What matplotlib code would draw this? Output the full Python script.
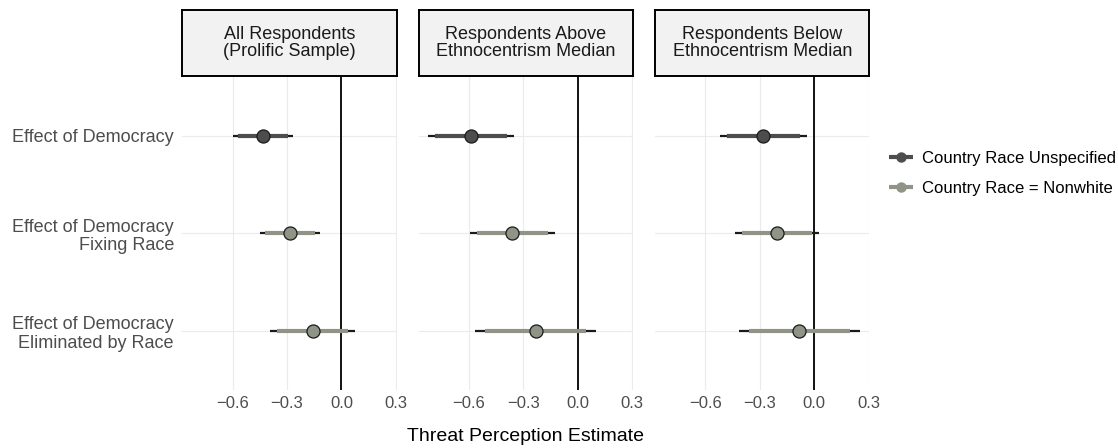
import matplotlib
matplotlib.use("Agg")
import matplotlib.pyplot as plt
from matplotlib.lines import Line2D

plt.rcParams['font.family'] = ['Liberation Sans', 'DejaVu Sans']

# Coefficient estimates with inner (thick) and outer (thin) intervals
panel_titles = ["All Respondents\n(Prolific Sample)",
                "Respondents Above\nEthnocentrism Median",
                "Respondents Below\nEthnocentrism Median"]
effects = ["Effect of Democracy",
           "Effect of Democracy\nFixing Race",
           "Effect of Democracy\nEliminated by Race"]
row_series = ["unspec", "nonwhite", "nonwhite"]

estimates = [[-0.433, -0.282, -0.159],
             [-0.590, -0.361, -0.232],
             [-0.280, -0.206, -0.083]]
inner_lo = [[-0.572, -0.420, -0.356],
            [-0.788, -0.556, -0.510],
            [-0.479, -0.398, -0.359]]
inner_hi = [[-0.295, -0.145, 0.035],
            [-0.392, -0.164, 0.046],
            [-0.081, -0.011, 0.199]]
outer_lo = [[-0.600, -0.447, -0.394],
            [-0.825, -0.593, -0.564],
            [-0.518, -0.435, -0.413]]
outer_hi = [[-0.266, -0.119, 0.074],
            [-0.354, -0.127, 0.099],
            [-0.042, 0.028, 0.250]]

series_labels = {"unspec": "Country Race Unspecified",
                 "nonwhite": "Country Race = Nonwhite"}
series_colors = {"unspec": "#4d4d4d", "nonwhite": "#8f9486"}
x_ticks = [-0.6, -0.3, 0.0, 0.3]

W, H = 1118, 448
fig = plt.figure(figsize=(W / 100, H / 100), dpi=100)

panel_w = 214.3
panel_lefts = [182.3, 418.7, 655.1]
panel_top, panel_bottom = 77, 390
strip_top, strip_bottom = 10, 76

ypos = [3, 2, 1]

for p, title in enumerate(panel_titles):
    left = panel_lefts[p]
    ax = fig.add_axes([left / W, 1 - panel_bottom / H, panel_w / W,
                       (panel_bottom - panel_top) / H])
    ax.set_xlim(-0.877, 0.304)
    ax.set_ylim(0.4, 3.6)
    ax.set_xticks(x_ticks)
    ax.set_xticklabels([f"{t:.1f}".replace("-", "\u2212") for t in x_ticks])
    ax.set_yticks(ypos)
    if p == 0:
        ax.set_yticklabels(effects, fontsize=13, color="#4d4d4d",
                           linespacing=1.1)
    else:
        ax.set_yticklabels([])
    ax.tick_params(axis='x', length=0, pad=4, labelsize=12, labelcolor="#4d4d4d")
    ax.tick_params(axis='y', length=0, pad=6)
    for s in ax.spines.values():
        s.set_visible(False)
    ax.grid(True, color="#ebebeb", linewidth=0.8)
    ax.set_axisbelow(True)
    ax.axvline(0, color="black", linewidth=1.3, zorder=2)

    for r in range(3):
        c = series_colors[row_series[r]]
        y = ypos[r]
        ax.plot([outer_lo[p][r], outer_hi[p][r]], [y, y], color="#1a1a1a",
                linewidth=1.6, solid_capstyle='butt', zorder=3)
        ax.plot([inner_lo[p][r], inner_hi[p][r]], [y, y], color=c,
                linewidth=3.0, solid_capstyle='butt', zorder=4)
        ax.plot(estimates[p][r], y, marker='o', markersize=9.4, color=c,
                markeredgecolor="#1a1a1a", markeredgewidth=0.9, zorder=5)

    # facet strip
    sax = fig.add_axes([left / W, 1 - strip_bottom / H, panel_w / W,
                        (strip_bottom - strip_top) / H])
    sax.set_facecolor("#f2f2f2")
    sax.set_xticks([])
    sax.set_yticks([])
    for s in sax.spines.values():
        s.set_color("black")
        s.set_linewidth(1.4)
    sax.text(0.5, 0.5, title, ha='center', va='center', fontsize=13,
             color="#1a1a1a", linespacing=1.0, transform=sax.transAxes)

fig.text((182.3 + 869.4) / 2 / W, 1 - 436 / H, "Threat Perception Estimate",
         ha='center', va='center', fontsize=14)

handles = [Line2D([], [], color=series_colors[k], linewidth=3.0, marker='o',
                  markersize=6.5, solid_capstyle='butt')
           for k in ["unspec", "nonwhite"]]
fig.legend(handles, [series_labels[k] for k in ["unspec", "nonwhite"]],
           loc='center left', bbox_to_anchor=(889 / W, 1 - 173.3 / H),
           frameon=False, fontsize=12, handlelength=1.45, handletextpad=0.5,
           borderpad=0, borderaxespad=0, labelspacing=0.9)

fig.savefig("out.png", dpi=100)
